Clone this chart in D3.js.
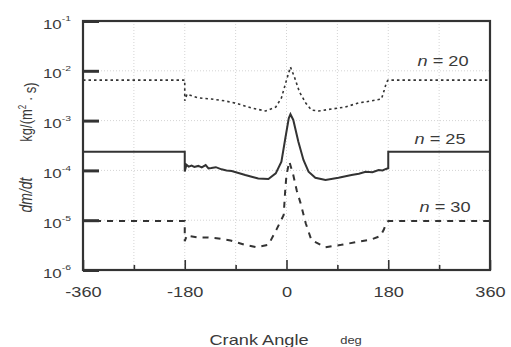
<!DOCTYPE html>
<html>
<head>
<meta charset="utf-8">
<script src="https://cdn.jsdelivr.net/npm/d3@7"></script>
<style>
  html, body { margin: 0; padding: 0; background: #fff; }
  svg { display: block; }
  text { font-family: "Liberation Sans", Arial, sans-serif; fill: #3a3a3a; }
</style>
</head>
<body>
<svg id="chart" width="511" height="347"></svg>
<script>
// Mass flow rate through the seal gap vs. crank angle for three engine speeds
const xTicks = [-360, -180, 0, 180, 360];
const xMinorTicks = [-270, -90, 90, 270];
const yExponents = [-1, -2, -3, -4, -5, -6];

const angles20 = [-360, -180, -180, -176, -173, -156, -133, -108, -85, -62, -37, -19, -9, 0, 7, 14, 23, 34, 44, 57, 80, 104, 127, 150, 168, 173, 177, 180, 360];
const values20 = [6.5e-3, 6.5e-3, 2.5e-3, 3.4e-3, 3.3e-3, 2.85e-3, 2.72e-3, 2.48e-3, 2.16e-3, 1.79e-3, 1.56e-3, 1.87e-3, 2.85e-3, 6.5e-3, 1.19e-2, 7.5e-3, 3.75e-3, 2.26e-3, 1.63e-3, 1.56e-3, 1.71e-3, 1.87e-3, 2.26e-3, 2.48e-3, 2.72e-3, 4.1e-3, 5.95e-3, 6.5e-3, 6.5e-3];

const angles25 = [-360, -180, -180, -177, -173, -168, -163, -156, -150, -143, -138, -133, -125, -115, -106, -97, -85, -73, -60, -50, -32, -19, -9, -2, 4, 7, 12, 21, 30, 39, 51, 69, 92, 115, 128, 140, 152, 163, 170, 176, 180, 180, 360];
const values25 = [2.37e-4, 2.37e-4, 9.5e-5, 1.3e-4, 1.19e-4, 1.25e-4, 1.17e-4, 1.23e-4, 1.15e-4, 1.28e-4, 1.1e-4, 1.12e-4, 1.16e-4, 1.05e-4, 1.0e-4, 9.7e-5, 8.9e-5, 8.1e-5, 7.4e-5, 6.9e-5, 6.7e-5, 8.7e-5, 1.5e-4, 4.48e-4, 1.11e-3, 1.34e-3, 1.03e-3, 3.77e-4, 1.62e-4, 9.4e-5, 7.1e-5, 6.4e-5, 7.1e-5, 8.1e-5, 8.6e-5, 9.4e-5, 9.2e-5, 1.02e-4, 1.0e-4, 1.07e-4, 1.1e-4, 2.37e-4, 2.37e-4];

const angles30 = [-360, -180, -180, -176, -173, -156, -138, -120, -99, -73, -53, -32, -18, -5, -2, 0, 5, 12, 18, 25, 34, 44, 69, 97, 127, 150, 166, 172, 176, 180, 360];
const values30 = [9.6e-6, 9.6e-6, 3.8e-6, 5.0e-6, 4.8e-6, 4.5e-6, 4.5e-6, 4.3e-6, 3.9e-6, 3.2e-6, 2.86e-6, 3.2e-6, 6.4e-6, 1.27e-5, 4.4e-5, 8.1e-5, 1.5e-4, 8.1e-5, 4.0e-5, 2.18e-5, 8.7e-6, 4.0e-6, 2.86e-6, 3.2e-6, 3.7e-6, 4.1e-6, 4.8e-6, 6.4e-6, 8.5e-6, 9.6e-6, 9.6e-6];

const seriesLabels = ["20", "25", "30"];

const svg = d3.select("#chart");
const plot = { left: 83, right: 490, top: 21, bottom: 270 };
const stretch = 1.3; // glyphs are drawn wide

const x = d3.scaleLinear().domain([-360, 360]).range([plot.left, plot.right]);
const y = d3.scaleLog().domain([1e-6, 1e-1]).range([plot.bottom, plot.top]);

// faint dotted grid
const grid = svg.append("g").attr("stroke", "#d4d4d4").attr("stroke-width", 1).attr("stroke-dasharray", "1,2");
grid.selectAll("line.v").data(xMinorTicks.concat([-180, 0, 180])).join("line")
  .attr("x1", d => x(d)).attr("x2", d => x(d)).attr("y1", plot.top).attr("y2", plot.bottom);
grid.selectAll("line.h").data([-2, -3, -4, -5]).join("line")
  .attr("x1", plot.left).attr("x2", plot.right).attr("y1", d => y(Math.pow(10, d))).attr("y2", d => y(Math.pow(10, d)));

// series
const line = d3.line().x(d => x(d[0])).y(d => y(d[1]));
const series = [
  { a: angles20, v: values20, dash: "2.5,3", w: 1.6 },
  { a: angles25, v: values25, dash: null, w: 2 },
  { a: angles30, v: values30, dash: "6,6", w: 2 }
];
series.forEach(s => {
  svg.append("path")
    .datum(d3.zip(s.a, s.v))
    .attr("fill", "none")
    .attr("stroke", "#333")
    .attr("stroke-width", s.w)
    .attr("stroke-dasharray", s.dash)
    .attr("d", line);
});

// x axis (ticks point inward)
const xAxis = svg.append("g").attr("transform", `translate(0,${plot.bottom})`)
  .call(d3.axisBottom(x).tickValues(xTicks).tickSizeInner(-10).tickSizeOuter(0).tickPadding(17).tickFormat(d => String(d)));
xAxis.select(".domain").remove();
xAxis.selectAll(".tick line").attr("stroke", "#333").attr("stroke-width", 1.6);
xAxis.selectAll(".tick text").attr("font-size", 14).attr("fill", "#3a3a3a")
  .attr("transform", `scale(${stretch},1)`);

const xMinor = svg.append("g").attr("transform", `translate(0,${plot.bottom})`)
  .call(d3.axisBottom(x).tickValues(xMinorTicks).tickSizeInner(-5).tickSizeOuter(0).tickFormat(""));
xMinor.select(".domain").remove();
xMinor.selectAll(".tick line").attr("stroke", "#333").attr("stroke-width", 1.6);

// y axis (thick inward ticks, power-of-ten labels)
const yAxis = svg.append("g").attr("transform", `translate(${plot.left},0)`)
  .call(d3.axisLeft(y).tickValues(yExponents.map(e => Math.pow(10, e))).tickSizeInner(-16).tickSizeOuter(0).tickPadding(0).tickFormat(() => ""));
yAxis.select(".domain").remove();
yAxis.selectAll(".tick line").attr("stroke", "#333").attr("stroke-width", 3);
yAxis.selectAll(".tick text")
  .attr("font-size", 13).attr("fill", "#3a3a3a")
  .attr("text-anchor", "end")
  .attr("x", -12 / stretch)
  .attr("dy", "0.55em")
  .attr("transform", `scale(${stretch},1)`)
  .each(function(d) {
    const t = d3.select(this);
    t.append("tspan").text("10");
    t.append("tspan").attr("font-size", 8).attr("dy", "-0.9em").text(Math.round(Math.log10(d)));
  });

// frame
svg.append("rect")
  .attr("x", plot.left).attr("y", plot.top)
  .attr("width", plot.right - plot.left).attr("height", plot.bottom - plot.top)
  .attr("fill", "none").attr("stroke", "#333").attr("stroke-width", 2.2);

// stretched text helper
function label(xp, yp, size, anchor) {
  return svg.append("text")
    .attr("transform", `translate(${xp},${yp}) scale(${stretch},1)`)
    .attr("font-size", size)
    .attr("text-anchor", anchor);
}

// series labels
const labelPos = [[443, 66], [440, 144], [445, 212]];
seriesLabels.forEach((s, i) => {
  const t = label(labelPos[i][0], labelPos[i][1], 14, "middle");
  t.append("tspan").attr("font-style", "italic").text("n");
  t.append("tspan").text(" = " + s);
});

// x title
label(259, 345, 14, "middle").text("Crank Angle");
label(351, 344, 10, "middle").text("deg");

// y title (rotated)
const yt = svg.append("g").attr("transform", "translate(32,0) rotate(-90)");
yt.append("text").attr("transform", `translate(-195,0) scale(1,${stretch})`)
  .attr("font-size", 14).attr("text-anchor", "middle").attr("font-style", "italic").text("dm/dt");
const unit = yt.append("text").attr("transform", `translate(-112,0) scale(1,${stretch})`)
  .attr("font-size", 13).attr("text-anchor", "middle");
unit.append("tspan").text("kg/(m");
unit.append("tspan").attr("font-size", 8).attr("dy", "-0.6em").text("2");
unit.append("tspan").attr("dy", "0.6em").text(" · s)");
</script>
</body>
</html>
